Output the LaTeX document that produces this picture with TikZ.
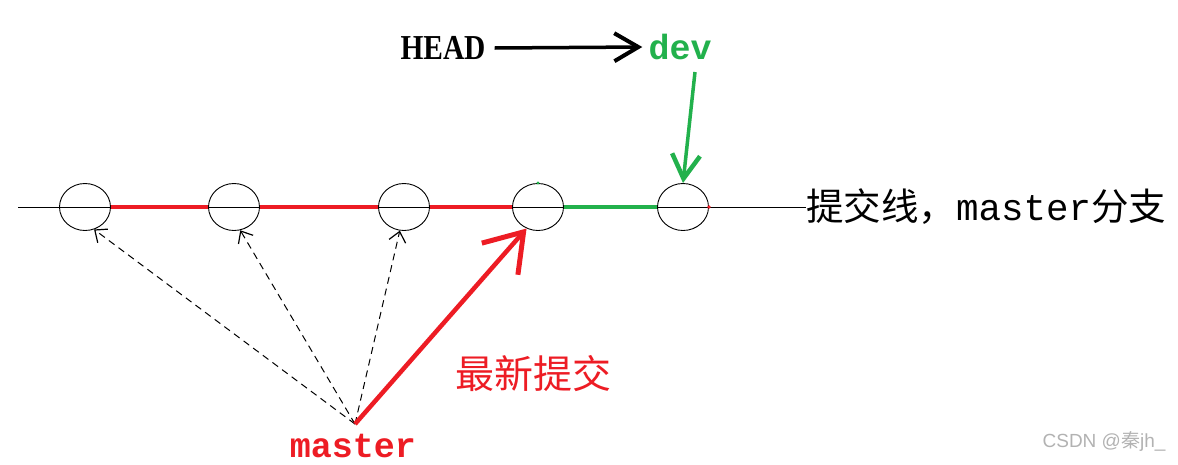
\documentclass[tikz,border=0pt]{standalone}
\usepackage{fontspec}
\usepackage{graphicx}
\setmainfont{Liberation Serif}
\newfontfamily\cjk{Noto Sans CJK SC}
\newfontfamily\mono{Liberation Mono}
\newfontfamily\wsans{Liberation Sans}
\usetikzlibrary{arrows.meta,shapes.geometric}
\definecolor{gitred}{RGB}{237,28,36}
\definecolor{gitgreen}{RGB}{34,177,76}
\begin{document}
\begin{tikzpicture}[x=1pt,y=-1pt,
  commit/.style={draw=black, ellipse, line width=0.9pt, minimum width=51pt, minimum height=47pt, inner sep=0pt},
  redseg/.style={gitred, line width=3.5pt},
  greenseg/.style={gitgreen, line width=3.5pt},
  dashedarrow/.style={black, dashed, dash pattern=on 7pt off 5pt, line width=1pt, -{Straight Barb[length=10pt,width=17pt,line width=1.2pt]}},
  lbl/.style={inner sep=0pt}
]
\useasboundingbox (0,0) rectangle (1178,464);
% axis line and label
\coordinate (L) at (18,207);
\node[lbl, anchor=west] (axis) at (806,207) {\fontsize{37.5pt}{39pt}\selectfont\cjk 提交线，\mono master\cjk 分支};
\draw[black, line width=1pt] (L) -- (axis.west);
% commits
\node[commit] (c1) at (85,207) {};
\node[commit] (c2) at (234,207) {};
\node[commit] (c3) at (404,207) {};
\node[commit] (c4) at (538,207) {};
\node[commit] (c5) at (683,207) {};
\draw[redseg] (c1.east) -- (c2.west);
\draw[redseg] (c2.east) -- (c3.west);
\draw[redseg] (c3.east) -- (c4.west);
\draw[greenseg] (c4.east) -- (c5.west);
\fill[gitgreen] (c4.north) circle (1.6pt);
\fill[gitred] (c5.east) circle (1.8pt);
% HEAD -> dev
\node[lbl] (head) at (443,48) {\fontsize{35pt}{37pt}\selectfont\bfseries\scalebox{0.84}[1]{HEAD}};
\node[lbl, text=gitgreen] (dev) at (680,47) {\fontsize{35pt}{37pt}\selectfont\mono\bfseries dev};
\draw[black, line width=3.5pt, -{Straight Barb[length=24pt,width=28pt,line width=4pt]}] ([xshift=9pt]head.east) -- ([xshift=-6pt]dev.west);
\coordinate (g1) at (695,72);
\draw[gitgreen, line width=3.5pt, -{Straight Barb[length=24pt,width=28pt,line width=4.5pt]}] (g1) -- (c5.north);
% master
\node[lbl, text=gitred] (master) at (353,446) {\fontsize{35pt}{37pt}\selectfont\mono\bfseries master};
\coordinate (m) at (355,424);
\draw[dashedarrow] (m) -- (c1.-68);
\draw[dashedarrow] (m) -- (c2.-75);
\draw[dashedarrow] (m) -- (c3.-100);
\draw[gitred, line width=4.5pt, -{Straight Barb[length=36pt,width=48pt,line width=5pt]}] (m) -- (c4.-118);
\node[lbl, text=gitred] (newest) at (533,374) {\fontsize{39pt}{41pt}\selectfont\cjk 最新提交};
% watermark
\node[lbl, text=black!30] (wm) at (1104,441) {\fontsize{19pt}{21pt}\selectfont\wsans CSDN @\cjk 秦\wsans jh\_};
\end{tikzpicture}
\end{document}
